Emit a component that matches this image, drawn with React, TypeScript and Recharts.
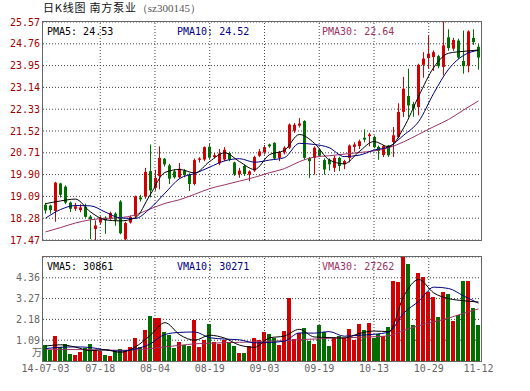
import React from "react";
import { ComposedChart, Bar, Line, XAxis, YAxis, CartesianGrid, ReferenceLine } from "recharts";

// daily candles, 2014-07-03 .. 2014-11-12 (88 sessions)
const opens = [
  18.78, 18.75, 18.55, 19.57, 19.45, 18.86, 18.63, 18.58, 18.70, 18.34,
  17.88, 18.12, 18.30, 18.27, 18.45, 18.90, 17.50, 18.12, 18.35, 19.05,
  19.08, 20.03, 19.41, 19.85, 20.49, 20.24, 20.02, 19.80, 20.05, 19.90,
  19.55, 20.45, 20.46, 20.93, 20.55, 20.32, 20.46, 20.70, 20.35, 19.92,
  20.22, 19.90, 20.05, 20.60, 20.72, 21.02, 21.08, 20.52, 20.73, 20.90,
  21.53, 21.72, 21.89, 20.52, 20.52, 20.83, 20.44, 20.45, 20.15, 20.52,
  20.28, 20.52, 20.93, 20.96, 21.27, 21.33, 21.30, 20.93, 20.63, 20.98,
  21.11, 21.30, 22.23, 22.82, 22.52, 22.41, 23.98, 24.23, 24.27, 24.30,
  23.90, 25.00, 24.58, 24.88, 24.12, 23.95, 24.98, 24.65,
];
const highs = [
  18.85, 18.78, 19.63, 19.60, 19.50, 18.90, 18.85, 18.80, 18.82, 18.40,
  18.20, 18.35, 18.35, 18.52, 18.50, 18.95, 18.15, 18.38, 19.12, 19.15,
  20.15, 21.02, 20.08, 20.95, 20.52, 20.30, 20.10, 20.33, 20.10, 19.95,
  20.50, 20.55, 20.95, 21.05, 20.70, 20.85, 20.92, 20.75, 20.38, 20.15,
  20.28, 20.06, 20.60, 20.85, 21.00, 21.05, 21.10, 20.78, 20.95, 21.80,
  21.82, 22.00, 21.92, 20.55, 20.95, 20.88, 20.50, 20.50, 20.60, 20.56,
  20.45, 21.02, 21.10, 21.20, 21.58, 21.45, 21.35, 20.98, 21.00, 21.00,
  21.67, 22.55, 23.53, 23.84, 22.60, 24.02, 24.45, 25.07, 24.52, 24.35,
  25.57, 25.30, 24.98, 24.95, 25.25, 25.26, 25.30, 24.75,
];
const lows = [
  18.45, 18.45, 18.15, 19.05, 18.80, 18.51, 18.55, 18.50, 18.30, 17.50,
  17.47, 18.05, 17.70, 18.22, 18.00, 17.68, 17.47, 18.08, 18.30, 18.90,
  19.00, 19.05, 19.30, 19.35, 20.20, 19.55, 19.75, 19.75, 19.80, 19.29,
  19.50, 20.35, 20.40, 20.45, 20.50, 20.25, 20.40, 20.40, 19.85, 19.78,
  19.85, 19.65, 20.00, 20.55, 20.65, 20.90, 20.45, 20.40, 20.65, 20.85,
  21.45, 21.65, 20.45, 19.78, 19.90, 20.55, 19.90, 20.05, 20.00, 20.03,
  20.10, 20.35, 20.75, 20.85, 21.10, 20.95, 20.88, 20.45, 20.55, 20.55,
  20.55, 21.25, 22.04, 22.04, 22.05, 22.10, 23.50, 23.84, 23.75, 23.85,
  23.59, 24.50, 24.50, 24.20, 23.65, 23.70, 24.72, 23.80,
];
const closes = [
  18.57, 18.58, 19.60, 19.15, 18.86, 18.63, 18.72, 18.68, 18.33, 18.25,
  18.01, 18.30, 18.20, 18.47, 18.22, 17.72, 18.10, 18.32, 19.09, 18.98,
  20.00, 19.31, 19.78, 20.52, 20.28, 19.75, 19.80, 20.12, 19.88, 19.55,
  20.44, 20.50, 20.92, 20.53, 20.62, 20.68, 20.82, 20.45, 19.91, 20.05,
  19.92, 20.02, 20.55, 20.76, 20.92, 20.95, 20.50, 20.73, 20.90, 21.76,
  21.75, 21.80, 20.52, 20.40, 20.90, 20.60, 20.09, 20.28, 20.52, 20.22,
  20.40, 20.98, 21.02, 21.14, 21.20, 21.39, 20.92, 20.78, 20.96, 20.62,
  21.36, 22.23, 23.09, 22.47, 22.35, 23.98, 24.21, 24.39, 24.45, 23.93,
  24.70, 24.60, 24.90, 24.25, 23.93, 25.22, 24.82, 24.25,
];
// volume in 万
const volumes = [
  0.84, 0.58, 1.33, 0.75, 0.87, 0.37, 0.31, 0.49, 0.66, 0.87,
  0.58, 0.54, 0.31, 0.26, 0.55, 0.61, 0.54, 0.73, 1.22, 0.72,
  1.62, 2.36, 2.24, 2.27, 1.54, 1.36, 0.70, 0.98, 0.84, 0.80,
  2.15, 0.75, 1.10, 1.94, 0.98, 0.87, 1.10, 0.98, 0.80, 0.40,
  0.40, 0.80, 1.19, 1.08, 1.54, 1.42, 1.19, 0.84, 1.57, 3.28,
  1.15, 1.45, 1.75, 1.07, 0.89, 1.89, 1.50, 0.80, 1.19, 1.31,
  1.19, 1.68, 1.10, 1.94, 1.62, 1.97, 1.22, 1.40, 1.31, 1.80,
  4.20, 4.15, 5.60, 5.10, 1.90, 4.60, 4.40, 3.60, 3.35, 2.30,
  3.60, 3.50, 2.10, 2.40, 4.20, 4.20, 2.80, 1.90,
];

// averages at every third session
const ma5 = [18.82, 18.92, 18.99, 18.52, 18.22, 18.18, 18.29, 19.14, 19.98, 20.09, 19.96, 20.39, 20.71, 20.38, 20.09, 20.64, 20.80, 21.39, 21.07, 20.45, 20.30, 20.75, 21.13, 20.93, 21.65, 22.82, 23.88, 24.41, 24.48, 24.53];
const ma10 = [18.28, 18.60, 18.75, 18.74, 18.51, 18.29, 18.27, 18.64, 19.21, 19.76, 19.94, 20.18, 20.41, 20.49, 20.36, 20.44, 20.53, 21.06, 21.02, 20.90, 20.57, 20.62, 20.81, 20.94, 21.37, 21.88, 22.92, 23.82, 24.33, 24.52];
const ma30 = [17.77, 17.93, 18.10, 18.22, 18.27, 18.30, 18.40, 18.62, 18.83, 18.97, 19.17, 19.38, 19.52, 19.66, 19.80, 19.97, 20.12, 20.38, 20.55, 20.60, 20.66, 20.72, 20.78, 20.90, 21.12, 21.40, 21.68, 21.95, 22.30, 22.64];
const vma5 = [0.78, 0.85, 0.73, 0.54, 0.59, 0.45, 0.73, 1.33, 2.01, 1.37, 1.09, 1.35, 1.20, 0.83, 0.72, 1.21, 1.31, 1.66, 1.26, 1.23, 1.20, 1.44, 1.57, 1.54, 3.41, 4.27, 3.57, 3.27, 3.16, 3.09];
const vma10 = [0.65, 0.72, 0.74, 0.71, 0.58, 0.52, 0.62, 0.89, 1.39, 1.50, 1.52, 1.22, 1.15, 1.11, 0.95, 0.97, 1.04, 1.47, 1.46, 1.54, 1.30, 1.35, 1.40, 1.52, 2.52, 3.13, 3.87, 3.80, 3.41, 3.03];
const vma30 = [0.62, 0.61, 0.60, 0.59, 0.58, 0.56, 0.57, 0.65, 0.74, 0.82, 0.90, 0.93, 0.96, 0.98, 1.00, 1.04, 1.06, 1.12, 1.15, 1.19, 1.22, 1.24, 1.27, 1.32, 1.60, 1.85, 2.05, 2.25, 2.50, 2.73];

const tickIdx = [0, 11, 22, 33, 44, 55, 66, 77, 87];
const tickLabels = ["14-07-03", "07-18", "08-04", "08-19", "09-03", "09-19", "10-13", "10-29", "11-12"];
const priceTicks = [17.47, 18.28, 19.09, 19.90, 20.71, 21.52, 22.33, 23.14, 23.95, 24.76, 25.57];
const volTicks = [1.09, 2.18, 3.27, 4.36];
const gridX = [11, 22, 33, 44, 55, 66, 77];

const RED = "#d20000";
const GREEN = "#006e00";
const C5 = "#000000";
const C10 = "#000080";
const C30 = "#993366";
const MONO = "'DejaVu Sans Mono', monospace";

const every3 = (arr: number[], i: number) => (i % 3 === 0 ? arr[i / 3] : null);

const rows = opens.map((o, i) => ({
  i,
  open: o,
  high: highs[i],
  low: lows[i],
  close: closes[i],
  vol: volumes[i],
  ma5: every3(ma5, i),
  ma10: every3(ma10, i),
  ma30: every3(ma30, i),
  vma5: every3(vma5, i),
  vma10: every3(vma10, i),
  vma30: every3(vma30, i),
}));

const Candle = (props: any) => {
  const { x, y, width, height, payload } = props;
  const top = Math.min(y, y + height);
  const h = Math.abs(height);
  const span = payload.high - payload.low;
  const py = (v: number) => top + (span ? ((payload.high - v) / span) * h : 0);
  const color = payload.close >= payload.open ? RED : GREEN;
  const left = Math.round(x + width / 2 - 1.5);
  const bTop = py(Math.max(payload.open, payload.close));
  const bBot = py(Math.min(payload.open, payload.close));
  return (
    <g>
      <line x1={left + 1.5} x2={left + 1.5} y1={top} y2={top + h} stroke={color} strokeWidth={1} />
      <rect x={left} y={bTop} width={3} height={Math.max(1, bBot - bTop)} fill={color} />
    </g>
  );
};

const VolBar = (props: any) => {
  const { x, y, width, height, payload } = props;
  const left = Math.round(x + width / 2 - 2);
  const top = Math.round(y);
  const bottom = Math.round(y + height);
  const color = payload.close >= payload.open ? RED : GREEN;
  return <rect x={left} y={top} width={4} height={Math.max(0, bottom - top)} fill={color} />;
};

const label = (left: number, top: number, color: string, text: string) => (
  <div style={{ position: "absolute", left, top, color, fontFamily: MONO, fontSize: 10, lineHeight: "12px", whiteSpace: "pre" }}>
    {text}
  </div>
);

const frame = (top: number, height: number) => (
  <div style={{ position: "absolute", left: 42, top: top - 1, width: 438, height, border: "1px solid #666", pointerEvents: "none" }} />
);

const App: React.FC = () => {
  return (
    <div style={{ position: "absolute", left: 0, top: 0, width: 530, height: 391, background: "#fff" }}>
      <div style={{ position: "absolute", left: 43, top: 1, fontSize: 11, lineHeight: "12px", letterSpacing: 0.8, fontFamily: "'Noto Sans CJK SC', sans-serif", color: "#111", whiteSpace: "pre" }}>
        日K线图 南方泵业<span style={{ color: "#555", letterSpacing: 0, fontFamily: "'Liberation Serif', serif" }}>（sz300145）</span>
      </div>

      <div style={{ position: "absolute", left: 0, top: 0 }}>
        <ComposedChart width={530} height={250} data={rows} margin={{ top: 22, right: 49, bottom: 10, left: 0 }}>
          <CartesianGrid vertical={false} stroke="#444" strokeDasharray="1 2" />
          <XAxis dataKey="i" type="category" hide />
          <YAxis
            width={43}
            type="number"
            domain={[17.47, 25.57]}
            ticks={priceTicks}
            allowDataOverflow
            interval={0}
            tickLine={false}
            axisLine={false}
            tickSize={0}
            tickMargin={3}
            tickFormatter={(v: number) => v.toFixed(2)}
            tick={{ fill: "#a00000", fontSize: 10, fontFamily: MONO }}
          />
          {gridX.map((g) => (
            <ReferenceLine key={g} x={g} stroke="#444" strokeDasharray="1 2" />
          ))}
          <Bar dataKey={(d: any) => [d.low, d.high]} barSize={3} shape={<Candle />} isAnimationActive={false} />
          <Line dataKey="ma30" type="monotone" stroke={C30} strokeWidth={1} dot={false} connectNulls isAnimationActive={false} />
          <Line dataKey="ma10" type="monotone" stroke={C10} strokeWidth={1} dot={false} connectNulls isAnimationActive={false} />
          <Line dataKey="ma5" type="monotone" stroke={C5} strokeWidth={1} dot={false} connectNulls isAnimationActive={false} />
        </ComposedChart>
      </div>

      <div style={{ position: "absolute", left: 0, top: 250 }}>
        <ComposedChart width={530} height={141} data={rows} margin={{ top: 7, right: 49, bottom: 0, left: 0 }}>
          <CartesianGrid vertical={false} stroke="#444" strokeDasharray="1 2" />
          <XAxis
            dataKey="i"
            type="category"
            ticks={tickIdx}
            interval={0}
            height={30}
            tickLine={false}
            axisLine={false}
            tickSize={0}
            tickMargin={4}
            tickFormatter={(v: number) => tickLabels[tickIdx.indexOf(v)]}
            tick={{ fill: "#666", fontSize: 10, fontFamily: MONO }}
          />
          <YAxis
            width={43}
            type="number"
            domain={[0, 5.45]}
            ticks={volTicks}
            allowDataOverflow
            interval={0}
            tickLine={false}
            axisLine={false}
            tickSize={0}
            tickMargin={3}
            tickFormatter={(v: number) => v.toFixed(2)}
            tick={{ fill: "#666", fontSize: 10, fontFamily: MONO }}
          />
          {gridX.map((g) => (
            <ReferenceLine key={g} x={g} stroke="#444" strokeDasharray="1 2" />
          ))}
          <Bar dataKey="vol" barSize={4} shape={<VolBar />} isAnimationActive={false} />
          <Line dataKey="vma30" type="monotone" stroke={C30} strokeWidth={1} dot={false} connectNulls isAnimationActive={false} />
          <Line dataKey="vma10" type="monotone" stroke={C10} strokeWidth={1} dot={false} connectNulls isAnimationActive={false} />
          <Line dataKey="vma5" type="monotone" stroke={C5} strokeWidth={1} dot={false} connectNulls isAnimationActive={false} />
        </ComposedChart>
      </div>

      {frame(22, 218)}
      {frame(257, 104)}

      {label(47, 26, C5, "PMA5: 24.53")}
      {label(177, 26, C10, "PMA10: 24.52")}
      {label(322, 26, C30, "PMA30: 22.64")}
      {label(47, 261, C5, "VMA5: 30861")}
      {label(177, 261, C10, "VMA10: 30271")}
      {label(322, 261, C30, "VMA30: 27262")}
      <div style={{ position: "absolute", left: 32, top: 346, color: "#666", fontSize: 10, lineHeight: "12px", fontFamily: "'Noto Sans CJK SC', sans-serif" }}>万</div>
    </div>
  );
};

export default App;
